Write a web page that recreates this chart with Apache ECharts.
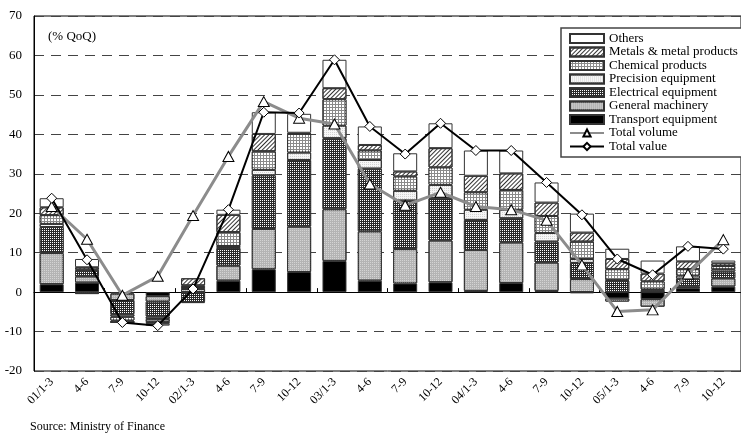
<!DOCTYPE html>
<html>
<head>
<meta charset="utf-8">
<script src="https://cdn.jsdelivr.net/npm/echarts@6/dist/echarts.min.js"></script>
<style>
  html, body { margin: 0; padding: 0; background: #fff; }
  #chart { width: 741px; height: 434px; }
</style>
</head>
<body>
<div id="chart"></div>
<script>
var categories = ['01/1-3', '4-6', '7-9', '10-12', '02/1-3', '4-6', '7-9', '10-12',
  '03/1-3', '4-6', '7-9', '10-12', '04/1-3', '4-6', '7-9', '10-12',
  '05/1-3', '4-6', '7-9', '10-12'];

var transport = [2.0, 2.4, -0.4, -1.0, 0, 2.9, 5.8, 5.1, 7.9, 2.9, 2.2, 2.5, 0.3, 2.3, 0.3, -0.3, -1.6, -1.8, 1.0, 1.4];
var machinery = [7.9, 1.6, -1.6, -1.4, 0.8, 3.8, 10.2, 11.5, 13.1, 12.5, 8.7, 10.6, 10.4, 10.3, 7.2, 3.3, -0.8, -1.9, 0.4, 2.1];
var electrical = [6.6, 1.4, -3.6, -3.8, -2.5, 4.5, 13.6, 16.9, 18.0, 15.9, 12.3, 10.7, 7.6, 6.1, 5.3, 4.1, 2.9, 0.5, 2.0, 1.7];
var precision = [0.8, -0.5, -0.6, -0.6, 0.5, 0.5, 1.4, 1.9, 3.2, 2.2, 2.5, 3.4, 2.6, 2.2, 2.2, 1.0, 0.2, 0.2, 0.8, 0.6];
var chemical = [2.2, 0.3, -1.0, -0.8, 0.4, 3.5, 4.7, 4.7, 6.7, 2.4, 3.6, 4.4, 4.4, 5.0, 4.3, 4.4, 2.7, 2.0, 1.6, 0.8];
var metals = [2.0, 0.6, -0.5, -0.4, 1.8, 4.4, 4.4, 0.3, 2.8, 1.4, 1.3, 4.9, 4.2, 4.2, 3.4, 2.3, 2.6, 2.0, 2.0, 0.7];
var others = [2.3, 2.1, 0, -0.5, -0.3, 1.3, 5.5, 4.8, 7.2, 4.7, 4.6, 6.3, 6.4, 5.8, 5.1, 4.8, 2.6, 3.3, 3.8, 0.7];

var totalVolume = [21.7, 13.4, -0.8, 4.0, 19.4, 34.4, 48.3, 44.1, 42.6, 27.4, 22.0, 25.3, 21.7, 20.9, 18.2, 6.9, -4.9, -4.5, 4.6, 13.3];
var totalValue = [23.8, 8.2, -7.7, -8.5, 0.8, 20.9, 45.6, 45.4, 58.9, 42.0, 35.0, 42.8, 35.9, 35.9, 27.8, 19.6, 8.4, 4.4, 11.6, 10.9];

var yTicks = { min: -20, max: 70, interval: 10 };

var serif = '"Liberation Serif", "DejaVu Serif", serif';

function barSeries(name, data, color, decal) {
  var s = {
    name: name,
    type: 'bar',
    stack: 'total',
    barWidth: 24,
    data: data,
    itemStyle: {
      color: color,
      borderColor: '#333',
      borderWidth: 1
    }
  };
  if (decal) s.itemStyle.decal = decal;
  return s;
}

var chart = echarts.init(document.getElementById('chart'));
chart.setOption({
  animation: false,
  textStyle: { fontFamily: serif },
  grid: {
    left: 34, top: 16, right: -14, bottom: 63,
    show: true, borderColor: '#000', borderWidth: 1
  },
  graphic: [{
    type: 'text', left: 48, top: 30,
    style: { text: '(% QoQ)', font: '13px ' + serif, fill: '#000' }
  }, {
    type: 'text', left: 30, top: 421,
    style: { text: 'Source: Ministry of Finance', font: '12px ' + serif, fill: '#000' }
  }],
  legend: {
    orient: 'vertical',
    left: 561, top: 28,
    padding: [4, 40, 4, 8],
    itemWidth: 34, itemHeight: 9, itemGap: 0.5,
    backgroundColor: '#fff',
    borderColor: '#444', borderWidth: 1.5,
    textStyle: { fontFamily: serif, fontSize: 13, color: '#000', lineHeight: 13 },
    data: [
      { name: 'Others', icon: 'rect' },
      { name: 'Metals & metal products', icon: 'rect' },
      { name: 'Chemical products', icon: 'rect' },
      { name: 'Precision equipment', icon: 'rect' },
      { name: 'Electrical equipment', icon: 'rect' },
      { name: 'General machinery', icon: 'rect' },
      { name: 'Transport equipment', icon: 'rect' },
      'Total volume',
      'Total value'
    ]
  },
  xAxis: [{
    type: 'category',
    data: categories,
    position: 'bottom',
    axisLine: { onZero: true, lineStyle: { color: '#000', width: 1 } },
    axisTick: { show: true, inside: true, length: 4, lineStyle: { color: '#000' } },
    axisLabel: { show: false },
    splitLine: { show: false }
  }, {
    type: 'category',
    data: categories,
    position: 'bottom',
    axisLine: { show: false, onZero: false },
    axisTick: { show: false },
    axisLabel: {
      rotate: 45, margin: 9, interval: 0,
      fontFamily: serif, fontSize: 12, color: '#000'
    }
  }],
  yAxis: {
    type: 'value',
    min: yTicks.min, max: yTicks.max, interval: yTicks.interval,
    axisLine: { show: true, lineStyle: { color: '#000' } },
    axisTick: { show: false },
    axisLabel: { fontFamily: serif, fontSize: 13, color: '#000', margin: 12 },
    splitLine: { lineStyle: { color: '#444', type: [10, 7], width: 1 } }
  },
  series: [
    barSeries('Transport equipment', transport, '#000'),
    barSeries('General machinery', machinery, '#b4b4b4',
      { symbol: 'rect', color: '#d4d4d4', dashArrayX: [1, 1], dashArrayY: [1, 1] }),
    barSeries('Electrical equipment', electrical, '#2a2a2a',
      { symbol: 'rect', color: '#ffffff', dashArrayX: [1, 1], dashArrayY: [1, 1] }),
    barSeries('Precision equipment', precision, '#f6f6f6',
      { symbol: 'rect', color: '#d2d2d2', dashArrayX: [1, 1], dashArrayY: [1, 1] }),
    barSeries('Chemical products', chemical, '#8a8a8a',
      { symbol: 'rect', color: '#ffffff', dashArrayX: [2, 1], dashArrayY: [2, 1] }),
    barSeries('Metals & metal products', metals, '#ffffff',
      { symbol: 'rect', color: '#333', dashArrayX: [1, 0], dashArrayY: [1, 1.5], rotation: -Math.PI / 4 }),
    barSeries('Others', others, '#ffffff'),
    {
      name: 'Total volume',
      type: 'line',
      data: totalVolume,
      symbol: 'triangle',
      symbolSize: [11, 10],
      z: 5,
      lineStyle: { color: '#8c8c8c', width: 3 },
      itemStyle: { color: '#fff', borderColor: '#000', borderWidth: 1 }
    },
    {
      name: 'Total value',
      type: 'line',
      data: totalValue,
      symbol: 'diamond',
      symbolSize: [10, 10],
      z: 6,
      lineStyle: { color: '#000', width: 2 },
      itemStyle: { color: '#fff', borderColor: '#000', borderWidth: 1 }
    }
  ]
});
</script>
</body>
</html>
